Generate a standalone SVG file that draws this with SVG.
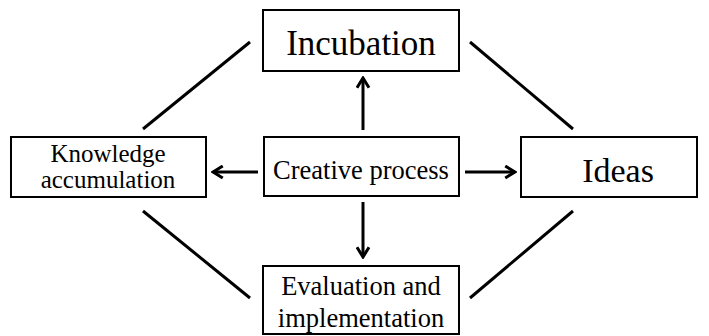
<svg xmlns="http://www.w3.org/2000/svg" width="709" height="336" viewBox="0 0 709 336">
<style>
.box{fill:#fff;stroke:#000;stroke-width:2}
.t{font-family:'Liberation Serif','Times New Roman',Times,serif;fill:#000;text-anchor:middle}
.c{stroke:#000;stroke-width:3;fill:none}
</style>
<defs>
<marker id="ah" viewBox="0 0 10 10" refX="8.5" refY="5" markerWidth="5" markerHeight="5" orient="auto" markerUnits="strokeWidth">
<path d="M2,1 L8.5,5 L2,9" fill="none" stroke="#000" stroke-width="2" stroke-linejoin="miter"/>
</marker>
</defs>
<rect width="709" height="336" fill="#fff"/>
<g id="connectors">
<line class="c" x1="143" y1="129" x2="250" y2="42"/>
<line class="c" x1="470" y1="42" x2="573" y2="129"/>
<line class="c" x1="143" y1="211" x2="250" y2="298"/>
<line class="c" x1="470" y1="298" x2="573" y2="211"/>
<line class="c" x1="363" y1="130" x2="363" y2="78" marker-end="url(#ah)"/>
<line class="c" x1="258" y1="172" x2="213" y2="172" marker-end="url(#ah)"/>
<line class="c" x1="465" y1="172" x2="515" y2="172" marker-end="url(#ah)"/>
<line class="c" x1="363" y1="202" x2="363" y2="257" marker-end="url(#ah)"/>
</g>
<g id="incubation">
<rect class="box" x="263" y="10" width="196" height="61"/>
<text class="t" x="361" y="55" font-size="35">Incubation</text>
</g>
<g id="knowledge">
<rect class="box" x="11" y="137" width="195" height="60"/>
<text class="t" x="108" y="162" font-size="25">Knowledge</text>
<text class="t" x="108" y="188" font-size="25">accumulation</text>
</g>
<g id="creative">
<rect class="box" x="264" y="137" width="195" height="59"/>
<text class="t" x="361" y="179" font-size="26.5">Creative process</text>
</g>
<g id="ideas">
<rect class="box" x="521" y="137" width="176" height="60"/>
<text class="t" x="618" y="182" font-size="34">Ideas</text>
</g>
<g id="evaluation">
<rect class="box" x="263" y="266" width="196" height="68"/>
<text class="t" x="361" y="295" font-size="26.5">Evaluation and</text>
<text class="t" x="361" y="327" font-size="26.5">implementation</text>
</g>
</svg>
